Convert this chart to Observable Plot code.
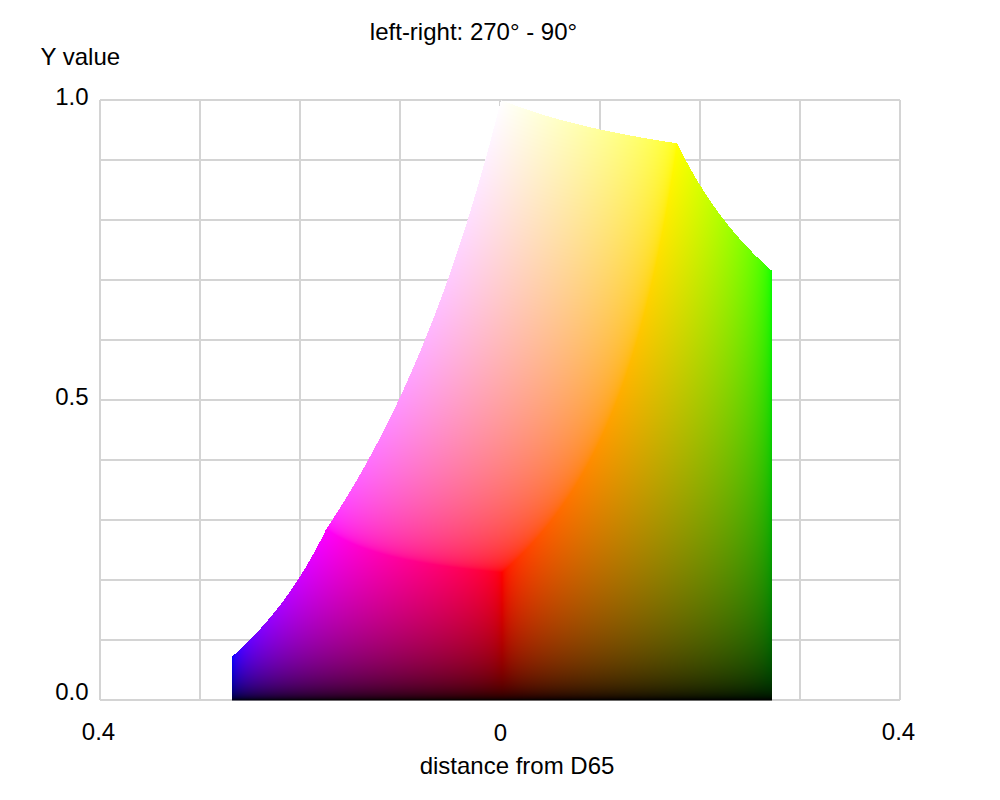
<!DOCTYPE html>
<html>
<head>
<meta charset="utf-8">
<script src="https://cdn.jsdelivr.net/npm/d3@7"></script>
<script src="https://cdn.jsdelivr.net/npm/@observablehq/plot@0.6"></script>
<style>
  html, body { margin: 0; padding: 0; background: #fff; }
  svg { display: block; }
</style>
</head>
<body>
<div id="chart"></div>
<script>
// ---- chart texts ----
const title = "left-right: 270° - 90°";
const yLabel = "Y value";
const xLabel = "distance from D65";

// ---- axis ticks ----
const xTicksOuter = [-0.4, 0.4];
const xTickOuterLabels = ["0.4", "0.4"];
const xTicksCenter = [0];
const xTickCenterLabels = ["0"];
const yTicks = [0.5, 1.0];
const yTickLabels = ["0.5", "1.0"];
const yTickZero = [0];
const yTickZeroLabel = ["0.0"];

// ---- grid ----
const gridX = [-0.4, -0.3, -0.2, -0.1, 0, 0.1, 0.2, 0.3, 0.4];
const gridY = [0, 0.1, 0.2, 0.3, 0.4, 0.5, 0.6, 0.7, 0.8, 0.9, 1.0];

// ---- colour space (sRGB primaries, D65) ----
const primaries = ["R", "G", "B"];
const primaryLuminance = [0.2126, 0.7152, 0.0722];   // Y of each primary
const primaryChromaY = [0.33, 0.60, 0.06];           // chromaticity y of each primary
const whiteChromaY = 0.3290;                         // D65 chromaticity y
// visible cube faces: [fixed channel, fixed value]
const faceChannel = [0, 1, 2];
const faceValue = [1, 0, 0];

const primarySum = primaryLuminance.map((l, i) => l / primaryChromaY[i]); // X+Y+Z

function solveRGB(d, Yp) {
  const denom = d + whiteChromaY;
  if (!(denom > 0) || Yp < 0) return null;
  const St = Yp / denom;
  const eps = 1e-9;
  for (let f = 0; f < faceChannel.length; ++f) {
    const c = faceChannel[f], val = faceValue[f];
    const [a, b] = [0, 1, 2].filter((k) => k !== c);
    const r1 = Yp - val * primaryLuminance[c];
    const r2 = St - val * primarySum[c];
    const det = primaryLuminance[a] * primarySum[b] - primaryLuminance[b] * primarySum[a];
    const u = (r1 * primarySum[b] - primaryLuminance[b] * r2) / det;
    const v = (primaryLuminance[a] * r2 - r1 * primarySum[a]) / det;
    if (u >= -eps && u <= 1 + eps && v >= -eps && v <= 1 + eps) {
      const rgb = [0, 0, 0];
      rgb[c] = val; rgb[a] = Math.min(1, Math.max(0, u)); rgb[b] = Math.min(1, Math.max(0, v));
      return rgb;
    }
  }
  return null;
}
const encode = (c) => Math.round(255 * (c <= 0.0031308 ? 12.92 * c : 1.055 * Math.pow(c, 1 / 2.4) - 0.055));

const font = "'Liberation Sans', Arial, Helvetica, sans-serif";

const chart = Plot.plot({
  width: 1000,
  height: 800,
  marginTop: 100,
  marginBottom: 100,
  marginLeft: 100,
  marginRight: 100,
  style: {fontFamily: font, background: "#fff", overflow: "visible"},
  x: {domain: [-0.4, 0.4], axis: null},
  y: {domain: [0, 1], axis: null},
  marks: [
    Plot.ruleX(gridX, {x: (d) => d, stroke: "#d4d4d4", strokeWidth: 2, dx: -0.5}),
    Plot.ruleY(gridY, {y: (d) => d, stroke: "#d4d4d4", strokeWidth: 2, dy: -0.5}),
    Plot.raster({
      x1: -0.4, x2: 0.4, y1: 0, y2: 1,
      pixelSize: 1,
      imageRendering: "pixelated",
      fill: (x, y) => {
        const rgb = solveRGB(x, y);
        return rgb ? `rgb(${encode(rgb[0])},${encode(rgb[1])},${encode(rgb[2])})` : "#ffffff";
      },
      fillOpacity: (x, y) => (solveRGB(x, y) ? 1 : 0)
    }),
    // x tick labels
    Plot.text(xTicksOuter, {x: (d) => d, frameAnchor: "bottom", text: (d, i) => xTickOuterLabels[i],
      dy: 32, dx: -2, lineAnchor: "middle", fontSize: 24, fill: "#000"}),
    Plot.text(xTicksCenter, {x: (d) => d, frameAnchor: "bottom", text: (d, i) => xTickCenterLabels[i],
      dy: 33, dx: 0, lineAnchor: "middle", fontSize: 24, fill: "#000"}),
    // y tick labels
    Plot.text(yTicks, {y: (d) => d, frameAnchor: "left", text: (d, i) => yTickLabels[i],
      dx: -12, dy: -3, textAnchor: "end", lineAnchor: "middle", fontSize: 24, fill: "#000"}),
    Plot.text(yTickZero, {y: (d) => d, frameAnchor: "left", text: (d, i) => yTickZeroLabel[i],
      dx: -12, dy: -8, textAnchor: "end", lineAnchor: "middle", fontSize: 24, fill: "#000"}),
    // title
    Plot.text([title], {frameAnchor: "top", text: (d) => d, dx: -27, dy: -68,
      lineAnchor: "middle", fontSize: 24, fill: "#000"}),
    // y label
    Plot.text([yLabel], {frameAnchor: "top-left", text: (d) => d, dx: -60, dy: -43,
      textAnchor: "start", lineAnchor: "middle", fontSize: 24, fill: "#000"}),
    // x label
    Plot.text([xLabel], {frameAnchor: "bottom", text: (d) => d, dx: 16.5, dy: 66,
      lineAnchor: "middle", fontSize: 24, fill: "#000"})
  ]
});
document.getElementById("chart").appendChild(chart);
</script>
</body>
</html>
